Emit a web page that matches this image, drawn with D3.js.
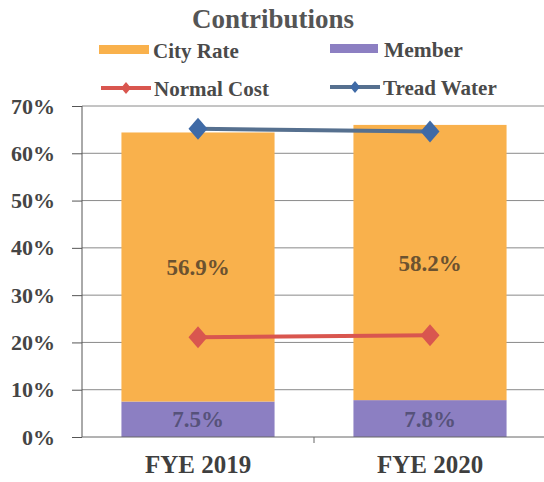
<!DOCTYPE html>
<html>
<head>
<meta charset="utf-8">
<script src="https://cdn.jsdelivr.net/npm/d3@7"></script>
<style>
  body { margin: 0; background: #fff; }
  text { font-family: "Liberation Serif", "Times New Roman", serif; font-weight: bold; }
</style>
</head>
<body>
<div class="chart"></div>
<script>
var categories = ["FYE 2019", "FYE 2020"];
var memberRate = [7.5, 7.8];
var cityRate = [56.9, 58.2];
var normalCost = [21.1, 21.5];
var treadWater = [65.2, 64.6];
var yTicks = [0, 10, 20, 30, 40, 50, 60, 70];

var svgWidth = 544, svgHeight = 482;
var margin = {top: 106, right: 0, bottom: 45, left: 82};
var width = 546 - margin.left;
var height = svgHeight - margin.top - margin.bottom;

var svg = d3.select(".chart").append("svg")
  .attr("width", svgWidth)
  .attr("height", svgHeight);

var chartGroup = svg.append("g")
  .attr("transform", `translate(${margin.left},${margin.top})`);

var x = d3.scaleBand().domain(categories).range([0, width]).paddingInner(0.34).paddingOuter(0.17);
var y = d3.scaleLinear().domain([0, 70]).range([height, 0]);

// diamond marker, a bit taller than wide
function diamond(w, h) {
  return `M0,${-h / 2}L${w / 2},0L0,${h / 2}L${-w / 2},0Z`;
}

// gridlines
chartGroup.append("g").selectAll("line")
  .data(yTicks.slice(1))
  .enter().append("line")
  .attr("x1", 0).attr("x2", width)
  .attr("y1", d => y(d)).attr("y2", d => y(d))
  .attr("stroke", "#8a8a8a").attr("stroke-width", 1);

// bars
var data = categories.map((c, i) => ({cat: c, member: memberRate[i], city: cityRate[i]}));
chartGroup.selectAll(".member").data(data).enter().append("rect")
  .attr("x", d => x(d.cat)).attr("width", x.bandwidth())
  .attr("y", d => y(d.member)).attr("height", d => y(0) - y(d.member))
  .attr("fill", "#8c7fc2");
chartGroup.selectAll(".city").data(data).enter().append("rect")
  .attr("x", d => x(d.cat)).attr("width", x.bandwidth())
  .attr("y", d => y(d.member + d.city)).attr("height", d => y(d.member) - y(d.member + d.city))
  .attr("fill", "#f9b14c");

// bar labels
chartGroup.selectAll(".cityLbl").data(data).enter().append("text")
  .attr("x", d => x(d.cat) + x.bandwidth() / 2)
  .attr("y", d => y(d.member + d.city / 2) + 8)
  .attr("text-anchor", "middle").attr("font-size", 23).attr("fill", "#6b5230")
  .text(d => d.city.toFixed(1) + "%");
chartGroup.selectAll(".memLbl").data(data).enter().append("text")
  .attr("x", d => x(d.cat) + x.bandwidth() / 2)
  .attr("y", d => y(d.member / 2) + 8)
  .attr("text-anchor", "middle").attr("font-size", 23).attr("fill", "#56527a")
  .text(d => d.member.toFixed(1) + "%");

// lines
function drawLine(vals, color, mColor) {
  var pts = categories.map((c, i) => [x(c) + x.bandwidth() / 2, y(vals[i])]);
  chartGroup.append("path")
    .attr("d", d3.line()(pts))
    .attr("fill", "none").attr("stroke", color).attr("stroke-width", 4);
  chartGroup.selectAll(null).data(pts).enter().append("path")
    .attr("d", diamond(19, 22))
    .attr("transform", d => `translate(${d[0]},${d[1]})`)
    .attr("fill", mColor);
}
drawLine(normalCost, "#d9564f", "#d9564f");
drawLine(treadWater, "#56708f", "#3f6aa6");

// axes
var leftAxis = d3.axisLeft(y).tickValues(yTicks).tickSize(10).tickFormat(d => d + "%");
var ax = chartGroup.append("g").call(leftAxis);
ax.select(".domain").attr("stroke", "#555").attr("d", `M0,${height}V0`);
ax.selectAll(".tick line").attr("stroke", "#555");
ax.selectAll(".tick text")
  .attr("x", -27).attr("font-size", 22).attr("fill", "#454545")
  .attr("font-family", "Liberation Serif").attr("font-weight", "bold");

chartGroup.append("line")
  .attr("x1", 0).attr("x2", width).attr("y1", height).attr("y2", height)
  .attr("stroke", "#666");
var midX = (x(categories[0]) + x.bandwidth() + x(categories[1])) / 2;
chartGroup.append("line")
  .attr("x1", midX).attr("x2", midX)
  .attr("y1", height).attr("y2", height + 6).attr("stroke", "#666");

chartGroup.selectAll(".catLbl").data(categories).enter().append("text")
  .attr("x", d => x(d) + x.bandwidth() / 2)
  .attr("y", height + 36)
  .attr("text-anchor", "middle").attr("font-size", 25).attr("fill", "#3f3f3f")
  .text(d => d);

// title
svg.append("text").attr("x", 273).attr("y", 28).attr("text-anchor", "middle")
  .attr("font-size", 27).attr("fill", "#555").text("Contributions");

// legend
var legend = svg.append("g");
legend.append("rect").attr("x", 99).attr("y", 45).attr("width", 50).attr("height", 9).attr("fill", "#f9b14c");
legend.append("text").attr("x", 153).attr("y", 58).attr("font-size", 21).attr("fill", "#4a4a4a").text("City Rate");
legend.append("rect").attr("x", 330).attr("y", 44).attr("width", 48).attr("height", 9).attr("fill", "#8c7fc2");
legend.append("text").attr("x", 384).attr("y", 57).attr("font-size", 21.5).attr("fill", "#4a4a4a").text("Member");

function legLine(x0, yy, color, mColor, label) {
  legend.append("line").attr("x1", x0).attr("x2", x0 + 50).attr("y1", yy).attr("y2", yy)
    .attr("stroke", color).attr("stroke-width", 4);
  legend.append("path").attr("d", diamond(10, 12))
    .attr("transform", `translate(${x0 + 25},${yy})`).attr("fill", mColor);
  legend.append("text").attr("x", x0 + 53).attr("y", yy + 8).attr("font-size", 21).attr("fill", "#4a4a4a").text(label);
}
legLine(101, 88, "#d9564f", "#d9564f", "Normal Cost");
legLine(330, 87, "#56708f", "#3f6aa6", "Tread Water");
</script>
</body>
</html>
